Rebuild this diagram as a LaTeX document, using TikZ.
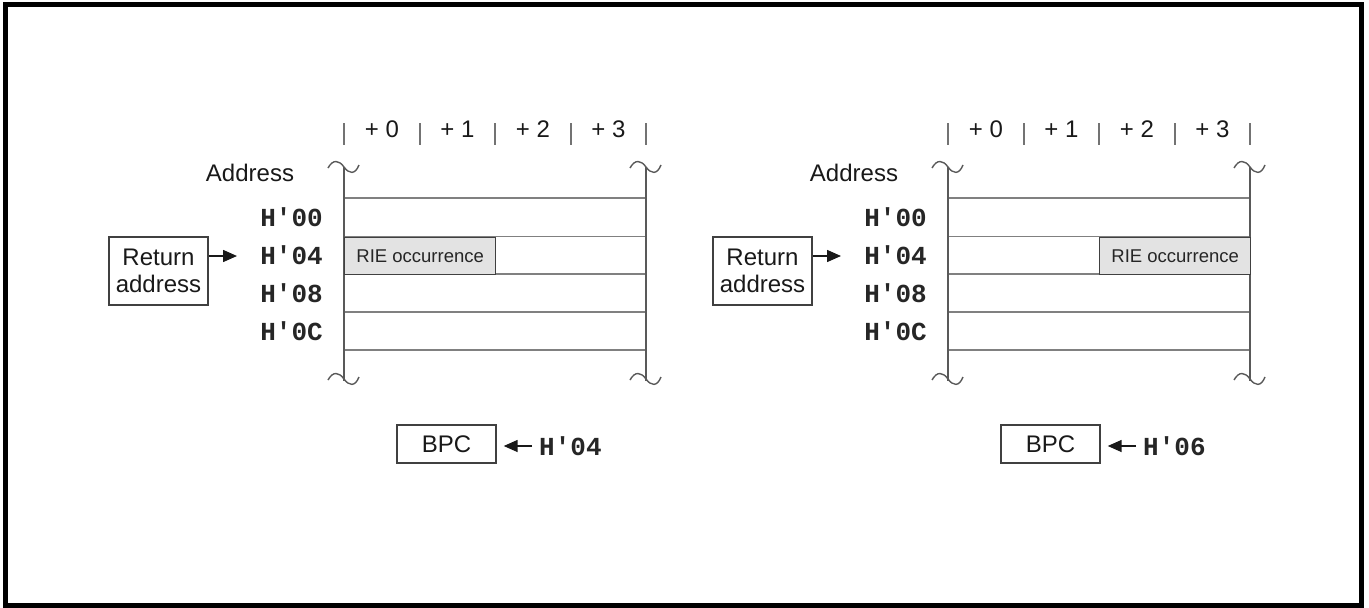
\documentclass[tikz,border=0pt]{standalone}
\usepackage{fontspec}
\setmainfont{Liberation Sans}
\newfontfamily\monofont{Liberation Mono}
\usetikzlibrary{arrows.meta}
\tikzset{
 vline/.style={draw=black!65, line width=1.4pt},
 hline/.style={draw=black!50, line width=1.4pt},
 tickline/.style={draw=black!55, line width=1.4pt},
 boxed/.style={draw=black!75, line width=1.4pt, inner sep=0pt},
 lab/.style={font=\fontsize{24}{27}\selectfont, text=black!90, inner sep=0pt},
 small/.style={font=\fontsize{18.5}{22}\selectfont, text=black!85},
 addr/.style={font=\monofont\bfseries\fontsize{26}{28}\selectfont, text=black!85, inner sep=0pt},
 arr/.style={-{Triangle[length=14pt,width=12pt]}, line width=1.5pt, draw=black!90},
}
\newcommand\mytilde[2]{%
 \draw[vline] (#1-16,#2+1) .. controls (#1-11,#2-8) and (#1-5,#2-7) .. (#1,#2)
   .. controls (#1+5,#2+7) and (#1+11,#2+8) .. (#1+15,#2-2);}
\newcommand\drawpanel[4]{% #1 prefix, #2 x offset, #3 RIE left x, #4 BPC value
\begin{scope}[xshift=#2]
 \foreach \x in {344,420,495,571,646} \draw[tickline] (\x,123) -- (\x,145);
 \foreach \i/\x in {0/382,1/457.5,2/533,3/608.5}
   \node[lab] (#1c\i) at (\x,129) {+ \i};
 \mytilde{344}{167}
 \mytilde{646}{167}
 \mytilde{344}{379}
 \mytilde{646}{379}
 \foreach \y in {198,236.5,274,312,350} \draw[hline] (344,\y) -- (646,\y);
 \draw[vline] (344,167) -- (344,381);
 \draw[vline] (646,167) -- (646,381);
 \node[boxed, small, fill=black!11, minimum width=151pt, minimum height=37.5pt,
   anchor=north west] (#1rie) at (#3,236.5) {RIE occurrence};
 \node[lab] (#1addr) at (250,173) {Address};
 \node[addr, anchor=east] (#1a00) at (323,217) {H\textquotesingle00};
 \node[addr, anchor=east] (#1a04) at (323,255) {H\textquotesingle04};
 \node[addr, anchor=east] (#1a08) at (323,293) {H\textquotesingle08};
 \node[addr, anchor=east] (#1a0c) at (323,331) {H\textquotesingle0C};
 \node[boxed, lab, minimum width=99pt, minimum height=68pt, align=center]
   (#1ret) at (158.5,271) {Return\\address};
 \coordinate (#1rt) at (237,256);
 \draw[arr] (#1ret.east |- #1rt) -- (#1rt);
 \node[boxed, lab, minimum width=99pt, minimum height=38pt] (#1bpc) at (446.5,444) {BPC};
 \node[addr, anchor=west] (#1bv) at (539,446) {H\textquotesingle#4};
 \draw[arr, shorten <=7pt, shorten >=7pt] (#1bv.west) -- (#1bpc.east |- #1bv.west);
\end{scope}}
\begin{document}
\begin{tikzpicture}[x=1pt,y=-1pt]
 \useasboundingbox (0,0) rectangle (1369,608);
 \draw[line width=5pt] (5.5,4.5) rectangle (1361.5,605);
 \drawpanel{L}{0pt}{344}{04}
 \drawpanel{R}{604pt}{495}{06}
\end{tikzpicture}
\end{document}
